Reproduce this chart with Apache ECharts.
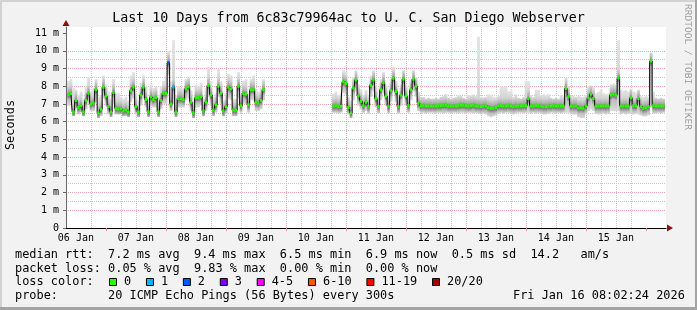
<!DOCTYPE html>
<html><head><meta charset="utf-8">
<script src="https://cdn.jsdelivr.net/npm/echarts@6/dist/echarts.min.js"></script>
<style>html,body{margin:0;padding:0;background:#f2f2f2}#c{width:697px;height:310px}</style>
</head><body><div id="c"></div>
<script>
// ---- time range (hours since 06 Jan 00:00) ----
const startHour = 8.04;   // 06 Jan 08:02:24
const endHour = 248.04;   // 16 Jan 08:02:24
const yMax = 11.34;

// ---- segment 1: hourly points from h=9 ----
const seg1Start = 9;
const median1 = [7.53,7.58,6.55,7.2,6.8,6.9,6.55,7.2,7.6,7.0,
  7.05,7.8,6.5,6.7,7.95,7.45,6.85,6.55,7.65,6.75,
  6.72,6.72,6.6,6.65,6.55,7.75,7.95,6.85,6.55,7.5,
  7.95,7.25,6.55,7.4,7.25,7.35,6.55,7.2,7.6,7.6,
  9.32,7.0,7.95,6.55,7.3,7.3,7.25,7.85,7.95,7.1,
  6.5,7.35,7.35,7.4,6.6,7.1,8.05,7.5,6.65,6.95,
  8.0,7.6,6.6,6.85,7.95,7.85,6.65,6.65,8.0,6.9,
  7.6,7.55,6.95,7.8,7.8,7.1,7.05,7.2,7.8];
const hi1 = [8.3,8.4,7.9,7.8,7.5,7.7,7.3,8.0,8.5,7.7,
  7.9,8.4,7.4,7.5,8.6,8.1,7.7,7.3,8.4,7.6,
  7.6,7.4,7.3,7.4,7.2,8.6,8.8,7.6,7.2,8.2,
  8.6,8.0,7.3,8.1,7.9,8.0,7.4,8.0,8.3,8.6,
  10.0,8.3,10.6,7.5,8.0,7.9,7.9,8.4,8.5,7.8,
  7.2,8.1,8.0,8.2,7.3,7.9,9.1,8.3,7.4,7.6,
  9.0,8.3,7.2,7.6,8.7,8.6,7.3,7.3,8.8,7.5,
  8.3,8.4,7.6,8.4,8.6,7.8,7.7,7.9,8.4];
const lo1 = [6.9,7.0,6.3,6.7,6.4,6.5,6.3,6.7,7.0,6.6,
  6.6,7.1,6.2,6.3,7.3,6.9,6.4,6.25,7.0,6.4,
  6.4,6.4,6.3,6.3,6.25,7.1,7.3,6.4,6.25,6.9,
  7.3,6.8,6.25,6.9,6.8,6.8,6.25,6.7,7.0,7.0,
  8.6,6.6,7.0,6.25,6.8,6.8,6.8,7.2,7.3,6.6,
  6.2,6.8,6.8,6.9,6.3,6.6,7.4,6.9,6.3,6.5,
  7.4,7.0,6.3,6.4,7.3,7.2,6.3,6.3,7.3,6.5,
  7.0,7.0,6.5,7.2,7.2,6.6,6.6,6.7,7.2];

// ---- segment 2: hourly points from h=115 ----
const seg2Start = 115;
const median2 = [6.87,6.9,6.85,6.87,8.25,8.15,6.8,6.5,7.9,8.35,
  7.45,7.15,6.9,7.1,6.87,8.05,8.35,7.3,6.87,7.8,
  8.2,7.45,6.87,7.75,8.45,7.7,6.85,7.5,8.4,7.45,
  6.9,7.8,8.4,8.0,7.05,6.9,6.9,6.88,6.88,6.88,
  6.88,6.88,6.9,6.9,6.93,6.93,6.88,6.88,6.88,6.88,
  6.9,6.93,6.93,6.9,6.88,6.9,6.93,6.88,6.88,6.85,
  6.88,6.88,6.8,6.76,6.76,6.8,6.88,6.9,6.88,6.88,
  6.9,6.88,6.85,6.88,6.88,6.88,6.9,6.9,7.3,6.88,
  6.88,6.9,6.88,6.88,6.85,6.85,6.88,6.88,6.9,6.88,
  6.88,6.88,6.88,7.87,7.4,6.88,6.88,6.88,6.78,6.78,
  6.76,6.88,7.35,7.55,7.3,6.88,6.88,6.88,6.88,6.88,
  6.88,7.5,7.55,7.5,8.47,6.88,6.88,6.88,6.88,7.35,
  6.9,6.9,7.3,6.85,6.75,6.78,6.85,9.42,6.9,6.88,
  6.88,6.88,6.88];
const hi2 = [7.6,7.7,7.5,7.6,8.9,8.8,7.4,7.2,8.5,8.9,
  8.1,7.8,7.5,7.8,7.5,8.6,8.9,8.0,7.5,8.4,
  8.8,8.1,7.5,8.4,9.1,8.3,7.5,8.1,8.9,8.1,
  7.5,8.4,8.9,8.5,7.7,7.4,7.4,7.3,7.35,7.3,
  7.3,7.35,7.3,7.4,7.45,7.55,7.35,7.3,7.35,7.4,
  7.5,7.45,7.35,7.3,7.5,7.5,7.55,7.45,10.8,7.4,
  7.35,7.4,7.55,7.5,7.4,7.35,7.45,8.0,7.95,8.0,
  7.7,7.75,7.4,7.55,7.35,7.3,7.4,8.3,8.3,7.5,
  7.4,7.8,7.8,7.5,7.55,7.5,7.55,7.35,7.3,7.35,
  7.3,7.5,7.45,8.5,8.0,7.45,7.45,7.4,7.45,7.4,
  7.4,7.5,8.0,8.05,7.95,7.6,7.7,7.8,7.6,7.55,
  7.6,8.1,8.15,8.1,10.6,7.8,7.75,7.8,7.7,7.85,
  7.7,7.65,7.8,7.45,7.4,7.45,7.4,9.9,7.7,7.35,
  7.3,7.35,7.3];
const lo2 = [6.5,6.5,6.45,6.5,7.6,7.5,6.4,6.2,7.2,7.7,
  6.9,6.7,6.5,6.6,6.45,7.4,7.7,6.8,6.45,7.2,
  7.6,6.9,6.45,7.1,7.8,7.1,6.45,6.9,7.7,6.9,
  6.5,7.2,7.7,7.4,6.6,6.5,6.5,6.45,6.5,6.5,
  6.5,6.45,6.5,6.5,6.45,6.5,6.5,6.45,6.5,6.5,
  6.45,6.5,6.5,6.45,6.5,6.5,6.45,6.5,6.45,6.4,
  6.45,6.4,6.3,6.25,6.3,6.35,6.45,6.5,6.45,6.5,
  6.5,6.45,6.4,6.45,6.5,6.5,6.45,6.5,6.5,6.45,
  6.5,6.45,6.5,6.45,6.4,6.4,6.45,6.5,6.5,6.45,
  6.5,6.45,6.5,6.5,6.5,6.45,6.4,6.4,6.25,6.2,
  6.2,6.4,6.6,6.7,6.6,6.45,6.4,6.4,6.45,6.4,
  6.45,6.6,6.6,6.6,6.6,6.4,6.45,6.4,6.45,6.45,
  6.4,6.45,6.4,6.35,6.3,6.3,6.35,6.8,6.45,6.45,
  6.5,6.45,6.5];

// ---- points with packet loss: [hour, lost pings] ----
const lossEvents = [[49, 2], [51, 1]];

// ---- axis labels ----
const dayLabels = ['06 Jan','07 Jan','08 Jan','09 Jan','10 Jan','11 Jan','12 Jan','13 Jan','14 Jan','15 Jan'];
const yTickValues = [0,1,2,3,4,5,6,7,8,9,10,11];

// ---- legend ----
const lossLabels = ['0','1','2','3','4-5','6-10','11-19','20/20'];
const lossColors = ['#26ff00','#00b8ff','#0059ff','#7e00ff','#ff00ff','#ff5500','#ff0000','#a10000'];
const titleText = 'Last 10 Days from 6c83c79964ac to U. C. San Diego Webserver';
const row1 = 'median rtt:  7.2 ms avg  9.4 ms max  6.5 ms min  6.9 ms now  0.5 ms sd  14.2   am/s';
const row2 = 'packet loss: 0.05 % avg  9.83 % max  0.00 % min  0.00 % now';
const row3 = 'loss color:';
const row4 = 'probe:       20 ICMP Echo Pings (56 Bytes) every 300s';
const dateText = 'Fri Jan 16 08:02:24 2026';

// ---------------------------------------------------------------
const FONT = '"DejaVu Sans Mono", monospace';
function lossIndex(n) {
  if (n <= 3) return n;
  if (n <= 5) return 4;
  if (n <= 10) return 5;
  if (n <= 19) return 6;
  return 7;
}
const lossMap = {};
lossEvents.forEach(e => { lossMap[e[0]] = lossIndex(e[1]); });

function rowsOf(start, med, lo, hi) {
  return med.map((m, i) => [start + i, lo[i], hi[i], m]);
}
const smokeRows = rowsOf(seg1Start, median1, lo1, hi1).concat(rowsOf(seg2Start, median2, lo2, hi2));
const line1 = median1.map((m, i) => [seg1Start + i, m]);
const line2 = median2.map((m, i) => [seg2Start + i, m]);
const medRows = smokeRows.map(r => [r[0], r[3], lossMap[r[0]] || 0]);

// tick positions
const minorX = [], majorX = [], noonX = [];
for (let h = 6; h < endHour; h += 6) {
  if (h <= startHour) continue;
  if (h % 24 === 0) majorX.push(h); else minorX.push(h);
  if (h % 24 === 12) noonX.push(h);
}
const halfY = yTickValues.map(v => v + 0.5).filter(v => v < yMax);

function smokeItem(params, api) {
  const h = api.value(0), lo = api.value(1), hi = api.value(2), med = api.value(3);
  const a = api.coord([h - 0.5, hi]);
  const b = api.coord([h + 0.5, lo]);
  const span = hi - lo;
  const off = v => Math.min(1, Math.max(0, (hi - v) / span));
  const stops = [
    [0, '#e4e4e4'], [off(med + 0.45), '#d3d3d3'], [off(med + 0.15), '#a8a8a8'],
    [off(med), '#6a6a6a'], [off(med - 0.12), '#7c7c7c'], [off(med - 0.3), '#bcbcbc'], [1, '#dadada']
  ];
  return {
    type: 'rect',
    shape: { x: a[0], y: a[1], width: b[0] - a[0] + 0.3, height: b[1] - a[1] },
    style: { fill: { type: 'linear', x: 0, y: 0, x2: 0, y2: 1, global: false,
      colorStops: stops.map(s => ({ offset: s[0], color: s[1] })) } }
  };
}
function medItem(params, api) {
  const h = api.value(0), med = api.value(1), li = api.value(2);
  const a = api.coord([h - 0.5, med]);
  const b = api.coord([h + 0.5, med]);
  return { type: 'rect', shape: { x: a[0], y: a[1] - 1.5, width: b[0] - a[0], height: 3 },
    style: { fill: lossColors[li] } };
}

// legend graphics
const graphics = [];
graphics.push({ type: 'rect', shape: { x: 0, y: 0, width: 697, height: 2 }, style: { fill: '#d2d2d2' }, silent: true });
graphics.push({ type: 'rect', shape: { x: 0, y: 0, width: 2, height: 310 }, style: { fill: '#d2d2d2' }, silent: true });
graphics.push({ type: 'rect', shape: { x: 0, y: 307, width: 697, height: 3 }, style: { fill: '#a4a4a4' }, silent: true });
graphics.push({ type: 'rect', shape: { x: 695, y: 0, width: 2, height: 310 }, style: { fill: '#a4a4a4' }, silent: true });
function txt(text, x, y, size, extra) {
  return Object.assign({ type: 'text', x: x, y: y, silent: true,
    style: { text: text, fill: '#000', font: size + 'px ' + FONT, align: 'left', verticalAlign: 'middle' } }, extra || {});
}
const tt = txt(titleText, 348.5, 19, 13.3); tt.style.align = 'center'; graphics.push(tt);
const sec = txt('Seconds', 11, 125, 11.9, { rotation: Math.PI / 2 }); sec.style.align = 'center'; graphics.push(sec);
const rr = txt('RRDTOOL / TOBI OETIKER', 687.5, 67, 9.5, { rotation: -Math.PI / 2 });
rr.style.align = 'center'; rr.style.fill = '#9c9c9c';
graphics.push(rr);
graphics.push(txt(row1, 15, 255, 11.9));
graphics.push(txt(row2, 15, 268.5, 11.9));
graphics.push(txt(row3, 15, 282, 11.9));
graphics.push(txt(row4, 15, 295.5, 11.9));
graphics.push(txt(dateText, 513, 295.5, 11.9));
let bx = 109;
lossLabels.forEach((lab, i) => {
  graphics.push({ type: 'rect', silent: true, shape: { x: bx + 0.5, y: 278.5, width: 7, height: 7 },
    style: { fill: lossColors[i], stroke: '#000', lineWidth: 1 } });
  graphics.push(txt(lab, bx + 15, 282, 11.9));
  bx += (lab.length + 4.15) * 7.17;
});

const medianLine = (data) => ({ type: 'line', xAxisIndex: 0, yAxisIndex: 0, data: data, step: 'middle',
  showSymbol: false, symbol: 'none', silent: true, lineStyle: { color: '#000', width: 1 }, z: 3 });

const chart = echarts.init(document.getElementById('c'), null, { renderer: 'canvas' });
chart.setOption({
  animation: false,
  backgroundColor: '#f2f2f2',
  textStyle: { fontFamily: FONT },
  grid: { left: 66, right: 31, top: 27, bottom: 82, show: true, backgroundColor: '#ffffff',
    borderWidth: 0, containLabel: false, outerBoundsMode: 'none' },
  xAxis: [
    { type: 'value', position: 'bottom', min: startHour, max: endHour,
      axisLine: { show: true, onZero: false, lineStyle: { color: '#000', width: 1 } },
      axisTick: { show: false, customValues: minorX },
      axisLabel: { show: true, customValues: noonX, color: '#000', fontFamily: FONT, fontSize: 10, margin: 5,
        formatter: v => dayLabels[Math.round((v - 12) / 24)] },
      splitLine: { show: true, showMinLine: false, showMaxLine: false, lineStyle: { color: '#c9c9c9', type: [1, 1], width: 1 } } },
    { type: 'value', position: 'bottom', min: startHour, max: endHour,
      axisLine: { show: true, onZero: false, symbol: ['none', 'triangle'], symbolSize: [7, 6], symbolOffset: [0, 4],
        lineStyle: { color: '#8a1010', width: 0 } },
      axisTick: { show: true, customValues: majorX, length: 3, lineStyle: { color: '#e89090' } },
      axisLabel: { show: false },
      splitLine: { show: true, showMinLine: false, showMaxLine: false, lineStyle: { color: '#eea4a4', type: [1, 1], width: 1 } } }
  ],
  yAxis: [
    { type: 'value', position: 'left', min: 0, max: yMax,
      axisLine: { show: true, onZero: false, symbol: ['none', 'triangle'], symbolSize: [7, 6], symbolOffset: [0, 4],
        lineStyle: { color: '#8a1010', width: 0 } },
      axisTick: { show: false, customValues: halfY },
      axisLabel: { show: false },
      splitLine: { show: true, showMinLine: false, showMaxLine: false, lineStyle: { color: '#c9c9c9', type: [1, 1], width: 1 } } },
    { type: 'value', position: 'left', min: 0, max: yMax,
      axisLine: { show: true, onZero: false, lineStyle: { color: '#666', width: 1 } },
      axisTick: { show: true, customValues: yTickValues, length: 3, lineStyle: { color: '#666' } },
      axisLabel: { show: true, customValues: yTickValues, color: '#000', fontFamily: FONT, fontSize: 10, margin: 7,
        formatter: v => (v === 0 ? '0' : v + ' m') },
      splitLine: { show: true, showMinLine: false, showMaxLine: false, lineStyle: { color: '#eea4a4', type: [1, 1], width: 1 } } }
  ],
  series: [
    { type: 'custom', name: 'smoke', xAxisIndex: 0, yAxisIndex: 0, data: smokeRows,
      encode: { x: 0, y: [1, 2] }, renderItem: smokeItem, clip: true, silent: true, z: 2 },
    medianLine(line1),
    medianLine(line2),
    { type: 'custom', name: 'loss', xAxisIndex: 0, yAxisIndex: 0, data: medRows,
      encode: { x: 0, y: 1 }, renderItem: medItem, clip: true, silent: true, z: 4 }
  ],
  graphic: graphics
});
</script>
</body></html>
